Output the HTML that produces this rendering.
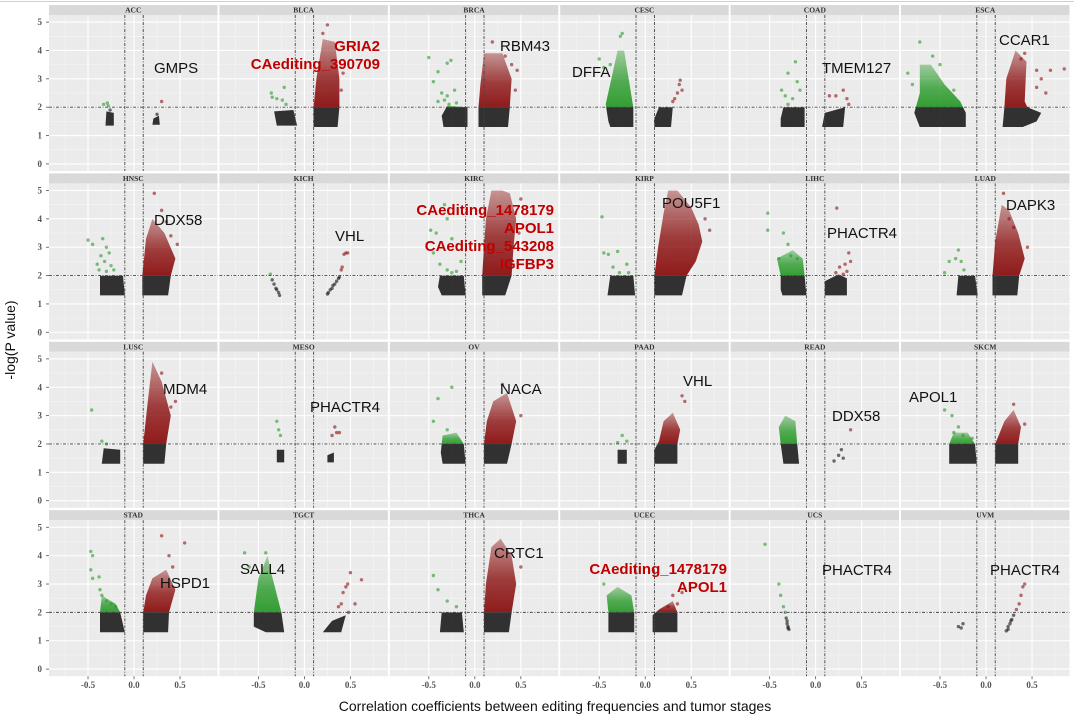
<!DOCTYPE html>
<html><head><meta charset="utf-8">
<style>
html,body{margin:0;padding:0;background:#fff;}
svg{display:block;font-family:"Liberation Sans",sans-serif;}
</style></head>
<body>
<svg id="chart" width="1074" height="719" viewBox="0 0 1074 719" xmlns="http://www.w3.org/2000/svg">
<defs>
<linearGradient id="gradRed" x1="0" y1="0" x2="0" y2="1"><stop offset="0" stop-color="#8b1010" stop-opacity="0.35"/><stop offset="0.6" stop-color="#8b1010" stop-opacity="0.85"/><stop offset="1" stop-color="#8b1010" stop-opacity="0.95"/></linearGradient>
<linearGradient id="gradGreen" x1="0" y1="0" x2="0" y2="1"><stop offset="0" stop-color="#2a9a2a" stop-opacity="0.35"/><stop offset="0.6" stop-color="#2a9a2a" stop-opacity="0.8"/><stop offset="1" stop-color="#2a9a2a" stop-opacity="0.95"/></linearGradient>
</defs>
<line x1="0" y1="1.5" x2="1074" y2="1.5" stroke="#d0d0d0" stroke-width="1"/>
<text x="15" y="340" transform="rotate(-90 15 340)" text-anchor="middle" font-size="14" fill="#111">-log(P value)</text>
<text x="555" y="711" text-anchor="middle" font-size="14" fill="#111">Correlation coefficients between editing frequencies and tumor stages</text>
<g id="panels"></g>
</svg>
<script>
const panelNames = ["ACC","BLCA","BRCA","CESC","COAD","ESCA","HNSC","KICH","KIRC","KIRP","LIHC","LUAD","LUSC","MESO","OV","PAAD","READ","SKCM","STAD","TGCT","THCA","UCEC","UCS","UVM"];
const xTicks = [-0.5, 0.0, 0.5];
const xTickLabels = ["-0.5","0.0","0.5"];
const yTicks = [0,1,2,3,4,5];
const corrCutoff = 0.1;
const pCutoff = 2;

// dense point clouds (outline of each cluster) [panel, side, vertices]
const clouds = [
 ["ACC","n",[[-0.31,1.35],[-0.22,1.35],[-0.22,1.8],[-0.3,1.85]]],
 ["ACC","p",[[0.2,1.38],[0.28,1.38],[0.27,1.7],[0.21,1.6]]],
 ["BLCA","n",[[-0.3,1.35],[-0.08,1.35],[-0.12,1.9],[-0.33,1.85]]],
 ["BLCA","p",[[0.1,1.3],[0.36,1.3],[0.38,2],[0.38,3.0],[0.33,4.3],[0.2,4.4],[0.13,3.0],[0.1,2]]],
 ["BRCA","n",[[-0.34,1.3],[-0.08,1.3],[-0.08,2],[-0.3,2.05],[-0.36,1.7]]],
 ["BRCA","p",[[0.04,1.3],[0.36,1.3],[0.38,2],[0.4,3],[0.3,3.9],[0.1,3.9],[0.06,2.8],[0.04,2]]],
 ["CESC","n",[[-0.38,1.3],[-0.13,1.3],[-0.13,2],[-0.23,4.0],[-0.3,4.0],[-0.43,2.1],[-0.4,1.5]]],
 ["CESC","p",[[0.1,1.3],[0.28,1.3],[0.3,2.0],[0.15,2.0],[0.1,1.6]]],
 ["COAD","n",[[-0.38,1.3],[-0.12,1.3],[-0.12,2],[-0.35,2],[-0.38,1.6]]],
 ["COAD","p",[[0.07,1.3],[0.3,1.3],[0.32,2.0],[0.1,1.8]]],
 ["ESCA","n",[[-0.72,1.3],[-0.22,1.3],[-0.22,1.8],[-0.28,2.2],[-0.45,2.8],[-0.6,3.5],[-0.72,3.5],[-0.72,2.5],[-0.78,1.8]]],
 ["ESCA","p",[[0.18,1.3],[0.4,1.3],[0.55,1.5],[0.6,1.8],[0.45,2.0],[0.42,2.2],[0.44,3.6],[0.32,4.0],[0.22,3.0],[0.2,2.0]]],
 ["HNSC","n",[[-0.37,1.3],[-0.1,1.3],[-0.12,2],[-0.37,2]]],
 ["HNSC","p",[[0.09,1.3],[0.37,1.3],[0.4,2],[0.45,2.6],[0.33,3.5],[0.2,4.0],[0.13,3.3],[0.09,2]]],
 ["KIRC","n",[[-0.36,1.3],[-0.1,1.3],[-0.12,2],[-0.38,2],[-0.4,1.6]]],
 ["KIRC","p",[[0.08,1.3],[0.33,1.3],[0.4,2],[0.42,3],[0.45,4],[0.38,4.9],[0.3,5.0],[0.18,5.0],[0.12,4.0],[0.1,3.0],[0.08,2]]],
 ["KIRP","n",[[-0.41,1.3],[-0.11,1.3],[-0.13,2],[-0.38,2]]],
 ["KIRP","p",[[0.1,1.3],[0.4,1.3],[0.45,2],[0.55,2.5],[0.62,3.2],[0.58,3.8],[0.5,4.4],[0.35,5.0],[0.25,5.0],[0.2,4.2],[0.14,3.0],[0.1,2]]],
 ["LIHC","n",[[-0.36,1.3],[-0.1,1.3],[-0.12,2],[-0.14,2.6],[-0.25,2.9],[-0.42,2.6],[-0.38,2],[-0.38,1.5]]],
 ["LIHC","p",[[0.1,1.3],[0.34,1.3],[0.34,1.9],[0.25,2.05],[0.1,1.8]]],
 ["LUAD","n",[[-0.32,1.3],[-0.09,1.3],[-0.12,2],[-0.3,2]]],
 ["LUAD","p",[[0.07,1.3],[0.34,1.3],[0.36,2],[0.42,2.6],[0.35,3.5],[0.25,4.3],[0.17,4.5],[0.1,3.2],[0.07,2]]],
 ["LUSC","n",[[-0.35,1.3],[-0.15,1.3],[-0.15,1.8],[-0.33,1.85]]],
 ["LUSC","p",[[0.1,1.3],[0.33,1.3],[0.35,2],[0.4,3],[0.3,4.2],[0.2,4.9],[0.15,3.5],[0.1,2]]],
 ["MESO","n",[[-0.3,1.35],[-0.22,1.35],[-0.22,1.8],[-0.3,1.8]]],
 ["MESO","p",[[0.25,1.35],[0.32,1.35],[0.32,1.7],[0.25,1.6]]],
 ["OV","n",[[-0.35,1.3],[-0.1,1.3],[-0.12,2],[-0.2,2.4],[-0.35,2.3],[-0.37,1.7]]],
 ["OV","p",[[0.1,1.3],[0.35,1.3],[0.4,2],[0.45,2.8],[0.35,3.8],[0.2,3.5],[0.13,2.8],[0.1,2]]],
 ["PAAD","n",[[-0.3,1.3],[-0.2,1.3],[-0.2,1.8],[-0.3,1.8]]],
 ["PAAD","p",[[0.1,1.3],[0.35,1.3],[0.35,2],[0.38,2.5],[0.3,3.1],[0.2,2.8],[0.15,2.1],[0.1,1.8]]],
 ["READ","n",[[-0.35,1.3],[-0.18,1.3],[-0.2,2],[-0.22,2.8],[-0.33,3.0],[-0.4,2.6],[-0.38,2]]],
 ["SKCM","n",[[-0.4,1.3],[-0.1,1.3],[-0.12,2],[-0.2,2.4],[-0.35,2.4],[-0.4,2]]],
 ["SKCM","p",[[0.1,1.3],[0.35,1.3],[0.35,2],[0.38,2.6],[0.3,3.2],[0.2,2.8],[0.1,2]]],
 ["STAD","n",[[-0.37,1.3],[-0.1,1.3],[-0.15,2],[-0.2,2.3],[-0.35,2.6],[-0.37,2]]],
 ["STAD","p",[[0.1,1.3],[0.37,1.3],[0.38,2],[0.45,2.8],[0.35,3.5],[0.2,3.2],[0.13,2.6],[0.1,2]]],
 ["TGCT","n",[[-0.55,1.5],[-0.42,1.3],[-0.22,1.3],[-0.25,2],[-0.37,3.5],[-0.4,4.0],[-0.5,3.2],[-0.55,2]]],
 ["TGCT","p",[[0.2,1.3],[0.4,1.3],[0.45,1.9],[0.3,1.7]]],
 ["THCA","n",[[-0.38,1.3],[-0.12,1.3],[-0.14,2],[-0.36,2]]],
 ["THCA","p",[[0.1,1.3],[0.37,1.3],[0.4,2],[0.45,3],[0.4,4],[0.28,4.6],[0.18,4.3],[0.12,3],[0.1,2]]],
 ["UCEC","n",[[-0.4,1.3],[-0.12,1.3],[-0.12,2],[-0.15,2.6],[-0.3,2.9],[-0.42,2.6],[-0.4,2]]],
 ["UCEC","p",[[0.08,1.3],[0.35,1.3],[0.35,2],[0.3,2.4],[0.15,2.1],[0.08,1.9]]]
];

// individual scattered points per panel [correlation, -logP]
const points = {
 ACC:[[-0.33,2.1],[-0.29,2.15],[-0.28,2.05],[-0.26,1.9],[0.3,2.2],[0.25,1.75]],
 BLCA:[[-0.36,2.5],[-0.35,2.35],[-0.3,2.3],[-0.22,2.7],[-0.24,2.25],[-0.2,2.1],[0.25,4.9],[0.42,3.2],[0.2,4.6],[0.4,2.6]],
 BRCA:[[-0.5,3.75],[-0.4,3.25],[-0.3,3.55],[-0.26,3.65],[-0.45,2.9],[-0.36,2.5],[-0.3,2.4],[-0.22,2.6],[-0.4,2.2],[-0.33,2.25],[-0.28,2.1],[-0.2,2.15],[0.19,4.3],[0.46,3.3],[0.4,3.5],[0.33,3.8],[0.44,2.6]],
 CESC:[[-0.25,4.6],[-0.27,4.5],[-0.5,3.7],[-0.45,3.4],[-0.38,3.5],[0.3,2.2],[0.35,2.5],[0.37,2.8],[0.4,2.6],[0.32,2.3],[0.38,2.95]],
 COAD:[[-0.22,3.6],[-0.3,3.2],[-0.2,2.9],[-0.37,2.6],[-0.33,2.4],[-0.25,2.3],[-0.17,2.6],[-0.3,2.1],[0.3,2.6],[0.22,2.4],[0.34,2.3],[0.36,2.1],[0.15,2.4]],
 ESCA:[[-0.72,4.3],[-0.85,3.2],[-0.58,3.8],[-0.5,3.5],[-0.8,2.8],[-0.35,2.6],[0.38,3.7],[0.42,3.9],[0.7,3.3],[0.85,3.35],[0.6,3.0],[0.55,2.7],[0.55,3.3],[0.65,2.5]],
 HNSC:[[-0.5,3.25],[-0.45,3.1],[-0.34,3.3],[-0.3,3.0],[-0.36,2.7],[-0.27,2.8],[-0.4,2.4],[-0.32,2.5],[-0.38,2.2],[-0.3,2.15],[-0.25,2.35],[-0.22,2.2],[0.22,4.9],[0.3,4.3],[0.4,3.4],[0.47,3.1],[0.35,3.9]],
 KICH:[[-0.37,2.05],[-0.35,1.85],[-0.33,1.7],[-0.31,1.55],[-0.3,1.5],[-0.28,1.4],[-0.27,1.3],[0.25,1.35],[0.26,1.4],[0.28,1.5],[0.3,1.55],[0.31,1.65],[0.33,1.7],[0.35,1.8],[0.37,1.9],[0.38,1.95],[0.45,2.8],[0.47,2.8],[0.43,2.75],[0.41,2.3],[0.4,2.2]],
 KIRC:[[-0.48,3.6],[-0.42,3.5],[-0.3,4.0],[-0.33,4.5],[-0.38,2.4],[-0.3,2.2],[-0.25,2.1],[-0.2,2.15],[-0.45,2.8],[-0.15,2.5],[-0.25,3.3],[0.5,4.7],[0.48,3.5]],
 KIRP:[[-0.47,4.07],[-0.45,2.8],[-0.4,2.75],[-0.3,2.85],[-0.35,2.3],[-0.28,2.1],[-0.2,2.4],[-0.18,2.1],[0.7,3.6],[0.65,4.0]],
 LIHC:[[-0.52,4.2],[-0.52,3.6],[-0.35,3.5],[-0.3,3.1],[-0.27,2.7],[-0.4,2.6],[-0.2,2.6],[0.23,4.38],[0.32,2.4],[0.36,2.8],[0.38,2.5],[0.26,2.3],[0.22,2.1],[0.3,2.05],[0.34,2.15]],
 LUAD:[[-0.4,2.5],[-0.33,2.6],[-0.27,2.5],[-0.45,2.1],[-0.3,2.9],[-0.24,2.2],[0.19,4.9],[0.25,4.0],[0.3,3.7],[0.45,3.0]],
 LUSC:[[-0.46,3.2],[-0.35,2.1],[-0.3,2.0],[0.3,4.5],[0.45,3.5],[0.4,3.3]],
 MESO:[[-0.3,2.8],[-0.28,2.5],[-0.26,2.3],[0.3,2.3],[0.35,2.4],[0.33,2.6],[0.38,2.4]],
 OV:[[-0.4,3.6],[-0.25,4.0],[-0.45,2.8],[-0.3,2.5],[0.3,4.1],[0.5,3.0]],
 PAAD:[[-0.25,2.3],[-0.2,2.1],[-0.3,2.05],[0.4,3.7],[0.43,3.5]],
 READ:[[0.2,1.4],[0.25,1.6],[0.28,1.8],[0.3,1.5],[0.38,2.5]],
 SKCM:[[-0.45,3.2],[-0.37,3.0],[-0.3,2.6],[-0.25,2.3],[-0.15,2.2],[-0.35,2.4],[0.3,3.4],[0.42,2.7]],
 STAD:[[-0.47,4.15],[-0.45,4.0],[-0.47,3.5],[-0.45,3.2],[-0.38,3.25],[-0.37,2.8],[-0.35,2.6],[-0.3,2.4],[-0.25,2.3],[-0.2,2.2],[0.3,4.7],[0.55,4.45],[0.38,4.0],[0.42,3.6]],
 TGCT:[[-0.65,4.1],[-0.6,3.6],[-0.42,4.1],[0.4,2.3],[0.45,2.9],[0.5,3.4],[0.55,2.3],[0.62,3.15],[0.42,2.7],[0.37,2.2],[0.48,2.0],[0.47,3.0]],
 THCA:[[-0.45,3.3],[-0.4,2.8],[-0.3,2.4],[-0.2,2.2],[0.5,3.6]],
 UCEC:[[-0.45,3.0],[0.3,2.6],[0.35,2.3],[0.25,2.2],[0.4,2.7]],
 UCS:[[-0.55,4.4],[-0.4,3.0],[-0.38,2.6],[-0.35,2.2],[-0.33,2.0],[-0.32,1.8],[-0.31,1.6],[-0.3,1.5],[-0.29,1.4],[-0.31,1.7],[-0.3,1.45]],
 UVM:[[-0.3,1.5],[-0.27,1.45],[-0.25,1.6],[0.22,1.35],[0.24,1.5],[0.26,1.6],[0.28,1.75],[0.3,1.9],[0.33,2.1],[0.36,2.3],[0.38,2.6],[0.4,2.9],[0.42,3.0],[0.24,1.4],[0.27,1.7]]
};

// gene annotations [panel, text, px-x, px-y, highlighted, anchor]
const labels = [
 ["ACC","GMPS",154,73,false,"start"],
 ["BLCA","GRIA2",380,51,true,"end"],["BLCA","CAediting_390709",380,69,true,"end"],
 ["BRCA","RBM43",500,51,false,"start"],
 ["CESC","DFFA",572,77,false,"start"],
 ["COAD","TMEM127",822,73,false,"start"],
 ["ESCA","CCAR1",999,45,false,"start"],
 ["HNSC","DDX58",154,225,false,"start"],
 ["KICH","VHL",335,241,false,"start"],
 ["KIRC","CAediting_1478179",554,215,true,"end"],["KIRC","APOL1",554,233,true,"end"],
 ["KIRC","CAediting_543208",554,251,true,"end"],["KIRC","IGFBP3",554,269,true,"end"],
 ["KIRP","POU5F1",662,208,false,"start"],
 ["LIHC","PHACTR4",827,238,false,"start"],
 ["LUAD","DAPK3",1006,210,false,"start"],
 ["LUSC","MDM4",163,394,false,"start"],
 ["MESO","PHACTR4",310,412,false,"start"],
 ["OV","NACA",500,394,false,"start"],
 ["PAAD","VHL",683,386,false,"start"],
 ["READ","DDX58",832,421,false,"start"],
 ["SKCM","APOL1",909,402,false,"start"],
 ["STAD","HSPD1",160,588,false,"start"],
 ["TGCT","SALL4",240,574,false,"start"],
 ["THCA","CRTC1",494,558,false,"start"],
 ["UCEC","CAediting_1478179",727,574,true,"end"],["UCEC","APOL1",727,592,true,"end"],
 ["UCS","PHACTR4",822,575,false,"start"],
 ["UVM","PHACTR4",990,575,false,"start"]
];

const NS = "http://www.w3.org/2000/svg";
const root = document.getElementById("panels");
const PW = 168.5, PH = 156, XMIN = -0.924, XMAX = 0.907, YMIN = -0.25, YMAX = 5.25;
function colLeft(c){ return 49 + c*170.4; }
function rowTop(r){ return 15 + r*168.4; }
function mk(tag, attrs, parent){
  const e = document.createElementNS(NS, tag);
  for (const k in attrs) e.setAttribute(k, attrs[k]);
  parent.appendChild(e);
  return e;
}
const defs = document.querySelector("defs");

panelNames.forEach((name, i) => {
  const c = i % 6, r = Math.floor(i / 6);
  const L = colLeft(c), T = rowTop(r);
  const sx = v => L + (v - XMIN) / (XMAX - XMIN) * PW;
  const sy = v => T + (YMAX - v) / (YMAX - YMIN) * PH;
  const g = mk("g", {}, root);
  
  
  const strip = mk("rect", {x:L, y:T-10, width:PW, height:10, fill:"#d9d9d9"}, g);
  
  
  const st = mk("text", {x:L+PW/2, y:T-2.5, "text-anchor":"middle", "font-size":"7.5", "font-weight":"bold", "font-family":"Liberation Serif, serif", fill:"#333"}, g);
  st.textContent = name;
  
  
  const bg = mk("rect", {x:L, y:T, width:PW, height:PH, fill:"#ebebeb"}, g);
  
  
  [-0.75,-0.25,0.25,0.75].forEach(v => mk("line",{x1:sx(v),x2:sx(v),y1:T,y2:T+PH,stroke:"#f5f5f5","stroke-width":0.6},g));
  [0.5,1.5,2.5,3.5,4.5].forEach(v => mk("line",{x1:L,x2:L+PW,y1:sy(v),y2:sy(v),stroke:"#f5f5f5","stroke-width":0.6},g));
  xTicks.forEach(v => mk("line",{x1:sx(v),x2:sx(v),y1:T,y2:T+PH,stroke:"#fff","stroke-width":1.1},g));
  yTicks.forEach(v => mk("line",{x1:L,x2:L+PW,y1:sy(v),y2:sy(v),stroke:"#fff","stroke-width":1.1},g));
  const cpA = mk("clipPath",{id:"ca"+i},defs); mk("rect",{x:L,y:T,width:PW,height:sy(pCutoff)-T},cpA);
  const cpB = mk("clipPath",{id:"cb"+i},defs); mk("rect",{x:L,y:sy(pCutoff),width:PW,height:T+PH-sy(pCutoff)},cpB);
  clouds.filter(cl => cl[0] === name).forEach(cl => {
    const vs = cl[2];
    const pts = vs.map(p => sx(p[0]).toFixed(1)+","+sy(p[1]).toFixed(1)).join(" ");
    // colored part: separate polygon clipped above cutoff with gradient spanning only its own height
    const ymaxV = Math.max(...vs.map(p => p[1]));
    if (ymaxV > pCutoff) {
      const gid = "g" + i + cl[1];
      const lg = mk("linearGradient",{id:gid, gradientUnits:"userSpaceOnUse", x1:0, x2:0, y1:sy(ymaxV), y2:sy(pCutoff)}, defs);
      const col = cl[1] === "n" ? "#2a9a2a" : "#8b1010";
      mk("stop",{offset:0,"stop-color":col,"stop-opacity":0.4},lg);
      mk("stop",{offset:0.55,"stop-color":col,"stop-opacity":0.8},lg);
      mk("stop",{offset:1,"stop-color":col,"stop-opacity":0.95},lg);
      const up = mk("polygon",{points:pts, fill:"url(#"+gid+")", "clip-path":"url(#ca"+i+")"}, g);
      
      
    }
    const dn = mk("polygon",{points:pts, fill:"#111", "fill-opacity":0.85, "clip-path":"url(#cb"+i+")"}, g);
    
    
  });
  (points[name] || []).forEach(p => {
    const col = p[1] < pCutoff ? "#111" : (p[0] < 0 ? "#2a9a2a" : "#8b1010");
    const ci = mk("circle",{cx:sx(p[0]), cy:sy(p[1]), r:1.7, fill:col, "fill-opacity":0.6}, g);
    
    
  });
  [-corrCutoff, corrCutoff].forEach(v => {
    const ln = mk("line",{x1:sx(v),x2:sx(v),y1:T,y2:T+PH,stroke:"#444","stroke-width":0.9,"stroke-dasharray":"3,1.5,1,1.5"},g);
    
    
  });
  const hl = mk("line",{x1:L,x2:L+PW,y1:sy(pCutoff),y2:sy(pCutoff),stroke:"#444","stroke-width":0.9,"stroke-dasharray":"3,1.5,1,1.5"},g);
  
  
  if (c === 0) {
    yTicks.forEach(v => {
      const t = mk("text",{x:L-7, y:sy(v)+3, "text-anchor":"end", "font-size":"9", "font-weight":"bold", "font-family":"Liberation Serif, serif", fill:"#555"}, g);
      t.textContent = v;
      
      
      mk("line",{x1:L-3,x2:L,y1:sy(v),y2:sy(v),stroke:"#555","stroke-width":0.8},g);
    });
  }
  if (r === 3) {
    xTicks.forEach((v, k) => {
      const t = mk("text",{x:sx(v), y:T+PH+12, "text-anchor":"middle", "font-size":"9", "font-weight":"bold", "font-family":"Liberation Serif, serif", fill:"#555"}, g);
      t.textContent = xTickLabels[k];
      
      
      mk("line",{x1:sx(v),x2:sx(v),y1:T+PH,y2:T+PH+3,stroke:"#555","stroke-width":0.8},g);
    });
  }
});

labels.forEach(lb => {
  const t = mk("text",{x:lb[2], y:lb[3], "text-anchor":lb[5], "font-size":"15", "font-weight":lb[4]?"bold":"normal", fill:lb[4]?"#c00000":"#111"}, root);
  t.textContent = lb[1];
  
  
});
</script>
</body></html>
